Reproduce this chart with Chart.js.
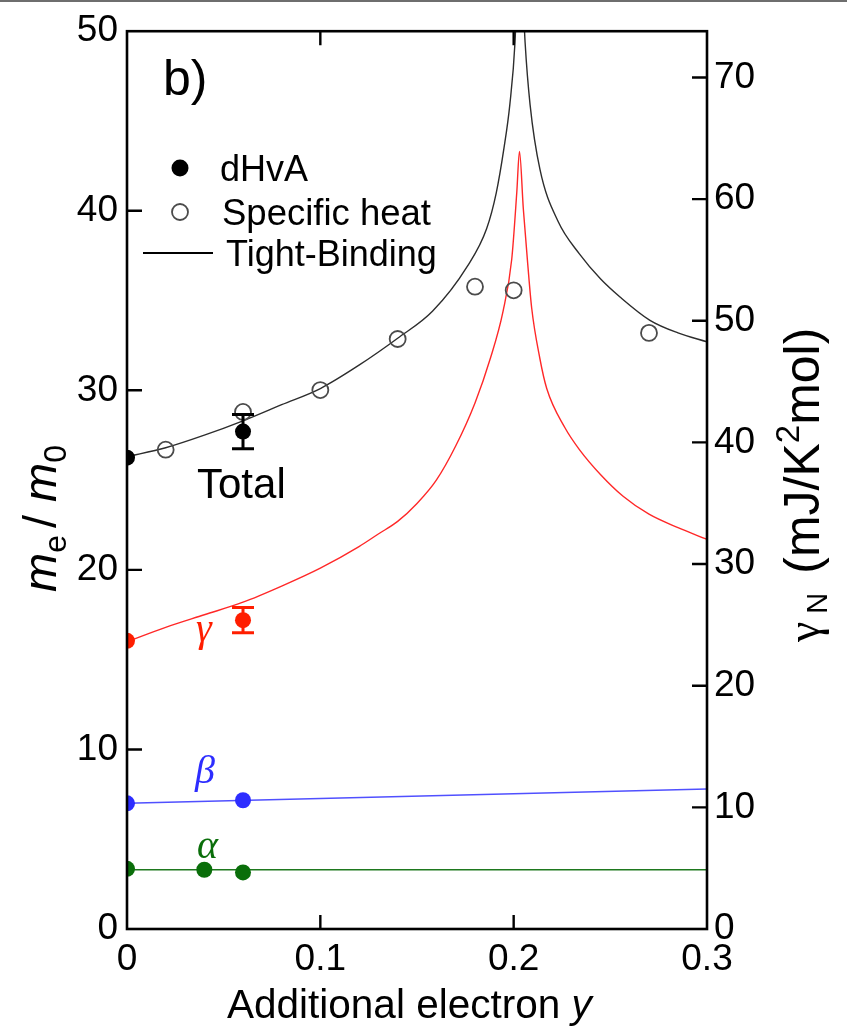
<!DOCTYPE html>
<html>
<head>
<meta charset="utf-8">
<script src="https://cdn.jsdelivr.net/npm/chart.js@4.4.1/dist/chart.umd.min.js"></script>
<style>
  html, body { margin: 0; padding: 0; background: #fff; }
  canvas { display: block; }
</style>
</head>
<body>
<canvas id="chart" width="847" height="1027"></canvas>
<script>
// ---- axis ticks ----
const xTicks = [0, 0.1, 0.2, 0.3];
const xTickLabels = ['0', '0.1', '0.2', '0.3'];
const massTicks = [0, 10, 20, 30, 40, 50];
const gammaTicks = [0, 10, 20, 30, 40, 50, 60, 70];
const massMax = 50;
const gammaMax = 73.8;   // mJ/K^2mol equivalent of m*/m0 = 50

// ---- tight-binding curves (m*/m0 vs additional electron y) ----
const tbTotalY = [0, 0.02, 0.04, 0.06, 0.08, 0.10, 0.12, 0.14, 0.158, 0.176, 0.186, 0.191, 0.195, 0.198, 0.2007, 0.203, 0.2059, 0.2085, 0.2136, 0.223, 0.234, 0.245, 0.255, 0.2705, 0.285, 0.30];
const tbTotalMass = [26.3, 26.8, 27.5, 28.3, 29.2, 30.1, 31.4, 32.9, 34.4, 36.9, 39.0, 41.0, 43.5, 45.9, 49.4, 56.0, 49.4, 45.9, 42.3, 39.4, 37.6, 36.2, 35.2, 33.9, 33.2, 32.7];

const tbGammaY = [0, 0.02, 0.04, 0.06, 0.08, 0.10, 0.12, 0.13, 0.14, 0.15, 0.16, 0.17, 0.18, 0.188, 0.1945, 0.199, 0.2016, 0.203, 0.205, 0.2073, 0.2093, 0.2135, 0.2171, 0.2266, 0.234, 0.245, 0.2566, 0.27, 0.285, 0.30];
const tbGammaMass = [16.0, 16.8, 17.5, 18.2, 19.1, 20.1, 21.3, 22.0, 22.7, 23.7, 25.0, 26.9, 29.3, 31.8, 34.4, 37.3, 41.0, 43.3, 40.1, 37.0, 34.6, 31.8, 30.1, 27.9, 26.7, 25.3, 24.1, 23.1, 22.35, 21.7];

const tbBetaY = [0, 0.30];
const tbBetaMass = [7.0, 7.8];

const tbAlphaY = [0, 0.30];
const tbAlphaMass = [3.3, 3.3];

// ---- dHvA effective masses ----
const dhvaTotalY = [0, 0.06];
const dhvaTotalMass = [26.25, 27.7];
const dhvaTotalErr = [0, 0.95];

const dhvaGammaY = [0, 0.06];
const dhvaGammaMass = [16.05, 17.2];
const dhvaGammaErr = [0, 0.7];

const dhvaBetaY = [0, 0.06];
const dhvaBetaMass = [7.0, 7.17];

const dhvaAlphaY = [0, 0.04, 0.06];
const dhvaAlphaMass = [3.35, 3.3, 3.15];

// ---- specific heat coefficient gamma_N (mJ/K^2mol) ----
const specHeatY = [0.02, 0.06, 0.10, 0.14, 0.18, 0.20, 0.27];
const specHeatGammaN = [39.4, 42.5, 44.3, 48.5, 52.8, 52.5, 49.0];

// ---- styling ----
const SANS = '"Liberation Sans", Arial, Helvetica, sans-serif';
const SERIF = '"Liberation Serif", "Times New Roman", serif';
const C_TOTAL = '#000000';
const C_GAMMA = 'rgb(255,30,0)';
const C_BETA = 'rgb(45,45,255)';
const C_ALPHA = 'rgb(10,110,10)';

const pts = (xs, ys) => xs.map((x, i) => ({ x, y: ys[i] }));

function curve(xs, ys, color, width) {
  return {
    data: pts(xs, ys), yAxisID: 'y', showLine: true, pointRadius: 0,
    borderColor: color, borderWidth: width, cubicInterpolationMode: 'monotone',
    order: 20
  };
}
function dots(xs, ys, color) {
  return {
    data: pts(xs, ys), yAxisID: 'y', showLine: false, pointRadius: 8,
    pointBackgroundColor: color, pointBorderColor: color, pointBorderWidth: 0,
    order: 1
  };
}
function errorBars(xs, ys, errs, color) {
  const sets = [];
  xs.forEach((x, i) => {
    if (!errs[i]) return;
    sets.push({
      data: [{ x, y: ys[i] - errs[i] }, { x, y: ys[i] + errs[i] }],
      yAxisID: 'y', showLine: true, borderColor: color, borderWidth: 3,
      pointStyle: 'line', pointRadius: 11, pointBorderWidth: 3,
      pointBorderColor: color, order: 2
    });
  });
  return sets;
}

const datasets = [
  curve(tbTotalY, tbTotalMass, 'rgb(45,45,45)', 1.4),
  curve(tbGammaY, tbGammaMass, 'rgb(255,40,40)', 1.4),
  curve(tbBetaY, tbBetaMass, 'rgb(80,80,255)', 1.6),
  curve(tbAlphaY, tbAlphaMass, 'rgb(30,120,30)', 1.6),
  {
    data: pts(specHeatY, specHeatGammaN), yAxisID: 'y2', showLine: false,
    pointRadius: 8, pointBorderWidth: 1.8, pointBorderColor: 'rgb(75,75,75)',
    pointBackgroundColor: 'rgba(0,0,0,0)', order: 3
  },
  ...errorBars(dhvaTotalY, dhvaTotalMass, dhvaTotalErr, C_TOTAL),
  ...errorBars(dhvaGammaY, dhvaGammaMass, dhvaGammaErr, C_GAMMA),
  dots(dhvaTotalY, dhvaTotalMass, C_TOTAL),
  dots(dhvaGammaY, dhvaGammaMass, C_GAMMA),
  dots(dhvaBetaY, dhvaBetaMass, C_BETA),
  dots(dhvaAlphaY, dhvaAlphaMass, C_ALPHA)
];

// text made of runs with their own font / offset
function richText(ctx, x, y, angle, parts) {
  ctx.save();
  ctx.translate(x, y);
  ctx.rotate(angle);
  ctx.textAlign = 'left';
  ctx.textBaseline = 'alphabetic';
  let cx = 0;
  for (const p of parts) {
    ctx.font = p.font;
    ctx.fillStyle = p.color || '#000';
    ctx.fillText(p.text, cx, p.dy || 0);
    cx += ctx.measureText(p.text).width + (p.gap || 0);
  }
  ctx.restore();
}

const framePlugin = {
  id: 'frameAndLabels',
  afterDatasetsDraw(chart) {
    const { ctx, chartArea: a, scales } = chart;
    ctx.save();
    ctx.strokeStyle = '#000';
    ctx.lineWidth = 2.6;
    ctx.strokeRect(a.left, a.top, a.right - a.left, a.bottom - a.top);
    ctx.lineWidth = 2.4;
    ctx.beginPath();
    const TL = 15;
    massTicks.forEach(v => {
      if (v <= 0 || v >= massMax) return;
      const y = scales.y.getPixelForValue(v);
      ctx.moveTo(a.left, y); ctx.lineTo(a.left + TL, y);
    });
    gammaTicks.forEach(v => {
      if (v <= 0) return;
      const y = scales.y2.getPixelForValue(v);
      ctx.moveTo(a.right, y); ctx.lineTo(a.right - TL, y);
    });
    xTicks.forEach(v => {
      if (v <= 0 || v >= 0.3) return;
      const x = scales.x.getPixelForValue(v);
      ctx.moveTo(x, a.bottom); ctx.lineTo(x, a.bottom - 14);
      ctx.moveTo(x, a.top); ctx.lineTo(x, a.top + 14);
    });
    ctx.stroke();
    ctx.restore();
  },
  afterDraw(chart) {
    const { ctx } = chart;
    ctx.save();
    // page rule at the top
    ctx.fillStyle = '#6e6e6e';
    ctx.fillRect(0, 0, 847, 2);

    // panel tag
    richText(ctx, 163, 95, 0, [{ text: 'b)', font: `50px ${SANS}` }]);

    // legend
    ctx.fillStyle = '#000';
    ctx.beginPath(); ctx.arc(180, 168, 8.5, 0, Math.PI * 2); ctx.fill();
    ctx.strokeStyle = 'rgb(75,75,75)'; ctx.lineWidth = 1.8;
    ctx.beginPath(); ctx.arc(180, 212, 8, 0, Math.PI * 2); ctx.stroke();
    ctx.strokeStyle = '#000'; ctx.lineWidth = 2;
    ctx.beginPath(); ctx.moveTo(143, 253); ctx.lineTo(213, 253); ctx.stroke();
    richText(ctx, 220, 181, 0, [{ text: 'dHvA', font: `36px ${SANS}` }]);
    richText(ctx, 222, 225, 0, [{ text: 'Specific heat', font: `36.5px ${SANS}` }]);
    richText(ctx, 226, 266, 0, [{ text: 'Tight-Binding', font: `36px ${SANS}` }]);

    // band labels
    richText(ctx, 197, 498, 0, [{ text: 'Total', font: `42px ${SANS}` }]);
    richText(ctx, 196, 641, 0, [{ text: 'γ', font: `italic 40px ${SERIF}`, color: C_GAMMA }]);
    richText(ctx, 195, 783, 0, [{ text: 'β', font: `italic 40px ${SERIF}`, color: C_BETA }]);
    richText(ctx, 197, 858, 0, [{ text: 'α', font: `italic 40px ${SERIF}`, color: C_ALPHA }]);

    // axis titles
    richText(ctx, 227, 1018, 0, [
      { text: 'Additional electron ', font: `40.5px ${SANS}` },
      { text: 'y', font: `italic 40.5px ${SANS}` }
    ]);
    richText(ctx, 56, 592, -Math.PI / 2, [
      { text: 'm', font: `italic 47px ${SANS}` },
      { text: 'e', font: `32px ${SANS}`, dy: 10, gap: 7 },
      { text: '/ ', font: `47px ${SANS}` },
      { text: 'm', font: `italic 47px ${SANS}` },
      { text: '0', font: `32px ${SANS}`, dy: 10 }
    ]);
    richText(ctx, 819, 642, -Math.PI / 2, [
      { text: 'γ', font: `46px ${SERIF}`, gap: 8 },
      { text: 'N', font: `29px ${SANS}`, dy: 8, gap: 19 },
      { text: '(mJ/K', font: `50px ${SANS}` },
      { text: '2', font: `33px ${SANS}`, dy: -20 },
      { text: 'mol)', font: `50px ${SANS}` }
    ]);
    ctx.restore();
  }
};

new Chart(document.getElementById('chart'), {
  type: 'scatter',
  data: { datasets },
  options: {
    responsive: false,
    animation: false,
    layout: { padding: { top: 29, left: 0, right: 0, bottom: 0 } },
    plugins: { legend: { display: false }, tooltip: { enabled: false } },
    scales: {
      x: {
        type: 'linear', position: 'bottom', min: 0, max: 0.3,
        afterBuildTicks: s => { s.ticks = xTicks.map(v => ({ value: v })); },
        afterFit: s => { s.height = 98; },
        grid: { display: false, drawTicks: false },
        border: { display: false },
        ticks: {
          font: { family: SANS, size: 37 }, color: '#000', padding: 9,
          maxRotation: 0, autoSkip: false,
          callback: (v, i) => xTickLabels[i]
        }
      },
      y: {
        type: 'linear', position: 'left', min: 0, max: massMax,
        afterBuildTicks: s => { s.ticks = massTicks.map(v => ({ value: v })); },
        afterFit: s => { s.width = 127; },
        grid: { display: false, drawTicks: false },
        border: { display: false },
        ticks: { font: { family: SANS, size: 37 }, color: '#000', padding: 9 }
      },
      y2: {
        type: 'linear', position: 'right', min: 0, max: gammaMax,
        afterBuildTicks: s => { s.ticks = gammaTicks.map(v => ({ value: v })); },
        afterFit: s => { s.width = 140; },
        grid: { display: false, drawTicks: false },
        border: { display: false },
        ticks: { font: { family: SANS, size: 37 }, color: '#000', padding: 7 }
      }
    }
  },
  plugins: [framePlugin]
});
</script>
</body>
</html>
